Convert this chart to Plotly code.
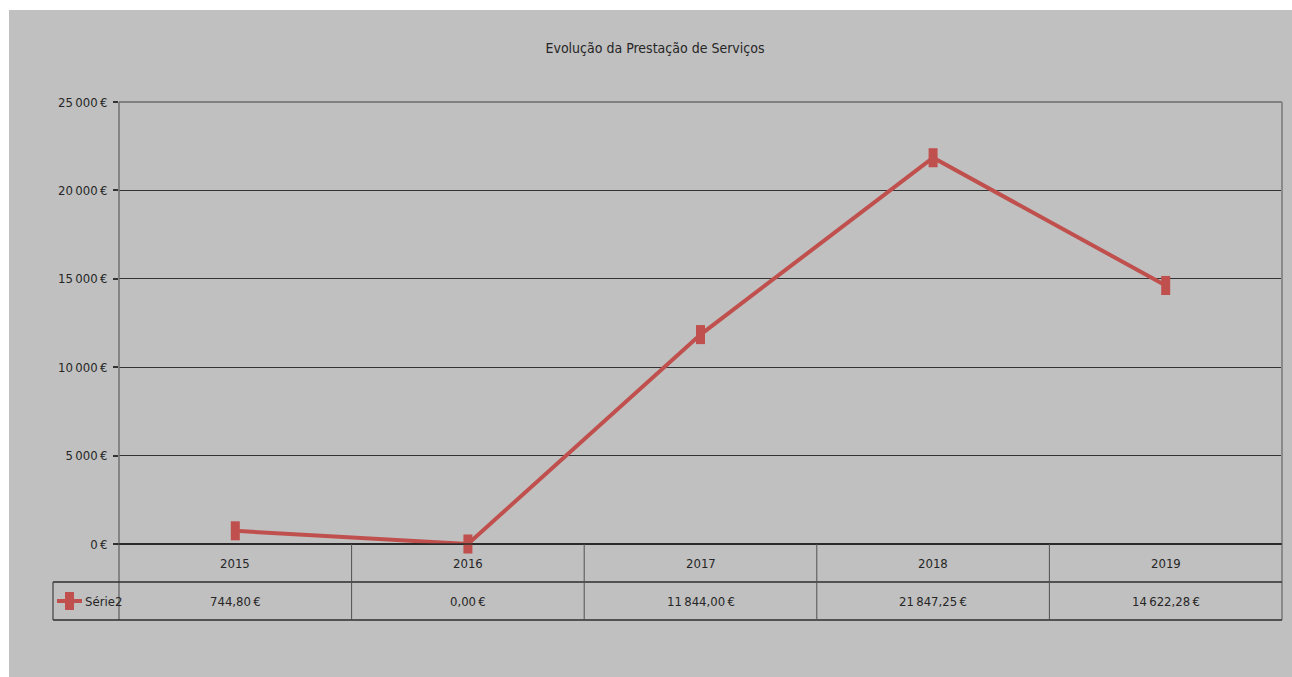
import plotly.graph_objects as go

# ---- data ----
years = ["2015", "2016", "2017", "2018", "2019"]
values = [744.80, 0.00, 11844.00, 21847.25, 14622.28]
series_name = "Série2"
title_text = "Evolução da Prestação de Serviços"
y_tickvals = [0, 5000, 10000, 15000, 20000, 25000]
y_ticktext = ["0\u202f€", "5\u202f000\u202f€", "10\u202f000\u202f€",
              "15\u202f000\u202f€", "20\u202f000\u202f€", "25\u202f000\u202f€"]


def fmt_eur(v):
    s = f"{v:,.2f}"  # 11,844.00
    s = s.replace(",", "\u202f").replace(".", ",")
    return s + "\u202f€"


value_labels = [fmt_eur(v) for v in values]

# ---- geometry (pixels) ----
W, H = 1292, 677
L, R, T, B = 119, 1282, 102, 544
pw, ph = R - L, B - T


def px(x):
    return (x - L) / pw


def py(y):
    return (B - y) / ph


FONT = "DejaVu Sans Condensed, Liberation Sans Narrow, Arial Narrow, sans-serif"
RED = "#C0504D"
TXT = "#262626"
FS = 13

fig = go.Figure()
fig.add_trace(go.Scatter(
    x=list(range(len(years))), y=values, name=series_name,
    mode="lines+markers",
    line=dict(color=RED, width=4),
    marker=dict(symbol="line-ns", size=13.6, color=RED,
                line=dict(color=RED, width=9)),
    cliponaxis=False, showlegend=False,
))

shapes = []
# gray background panel
shapes.append(dict(type="rect", xref="paper", yref="paper", layer="below",
                   x0=px(9), x1=px(W + 2), y0=py(H + 2), y1=py(10),
                   fillcolor="#C0C0C0", line=dict(width=0)))
# plot border top / right / left
shapes.append(dict(type="line", xref="paper", yref="paper", x0=0, x1=1, y0=1, y1=1,
                   line=dict(color="#808080", width=2)))
shapes.append(dict(type="line", xref="paper", yref="paper", x0=1, x1=1, y0=py(620), y1=1,
                   line=dict(color="#8a8a8a", width=2)))
shapes.append(dict(type="line", xref="paper", yref="paper", x0=0, x1=0, y0=py(620), y1=1,
                   line=dict(color="#707070", width=1.5)))
# table horizontal lines
for yy, x0 in [(B, L - 4), (582, 53), (620, 53)]:
    shapes.append(dict(type="line", xref="paper", yref="paper", x0=px(x0), x1=1,
                       y0=py(yy), y1=py(yy), line=dict(color="#2e2e2e", width=1.5)))
# legend cell left border
shapes.append(dict(type="line", xref="paper", yref="paper", x0=px(53), x1=px(53),
                   y0=py(620), y1=py(582), line=dict(color="#404040", width=1.2)))
# column dividers (between categories)
for i in range(1, len(years)):
    shapes.append(dict(type="line", xref="x", yref="paper", x0=i - 0.5, x1=i - 0.5,
                       y0=py(620), y1=0, line=dict(color="#505050", width=1)))
# legend key in table
shapes.append(dict(type="line", xref="paper", yref="paper", x0=px(57), x1=px(82),
                   y0=py(601), y1=py(601), line=dict(color=RED, width=4)))
shapes.append(dict(type="rect", xref="paper", yref="paper", x0=px(65), x1=px(74),
                   y0=py(610), y1=py(592), fillcolor=RED, line=dict(width=0)))

annotations = []
for i, (yr, lab) in enumerate(zip(years, value_labels)):
    annotations.append(dict(x=i, y=py(563), xref="x", yref="paper", text=yr,
                            xanchor="center", yanchor="middle",
                            showarrow=False, font=dict(family=FONT, size=FS, color=TXT)))
    annotations.append(dict(x=i, y=py(601), xref="x", yref="paper", text=lab,
                            xanchor="center", yanchor="middle",
                            showarrow=False, font=dict(family=FONT, size=FS, color=TXT)))
annotations.append(dict(x=px(83), y=py(601), xref="paper", yref="paper", text=series_name,
                        xanchor="left", yanchor="middle", showarrow=False,
                        font=dict(family=FONT, size=FS, color=TXT)))

fig.update_layout(
    width=W, height=H,
    margin=dict(l=L, r=W - R, t=T, b=H - B, pad=0),
    paper_bgcolor="white", plot_bgcolor="rgba(0,0,0,0)",
    title=dict(text=title_text, x=655 / W, xref="container", xanchor="center",
               y=1 - 48 / H, yref="container", yanchor="middle",
               font=dict(family=FONT, size=14, color=TXT)),
    xaxis=dict(range=[-0.5, len(years) - 0.5], showgrid=False, zeroline=False,
               showticklabels=False, showline=False, fixedrange=True),
    yaxis=dict(range=[0, 25000], tickvals=y_tickvals, ticktext=y_ticktext,
               showgrid=True, gridcolor="#333333", gridwidth=1.2,
               zeroline=True, zerolinecolor="#222222", zerolinewidth=1.5,
               ticks="outside", ticklen=5, tickcolor="#333333", tickwidth=1.5,
               ticklabelstandoff=3,
               tickfont=dict(family=FONT, size=FS, color=TXT), showline=False),
    shapes=shapes, annotations=annotations,
    showlegend=False,
)

fig.write_html("out.html")
